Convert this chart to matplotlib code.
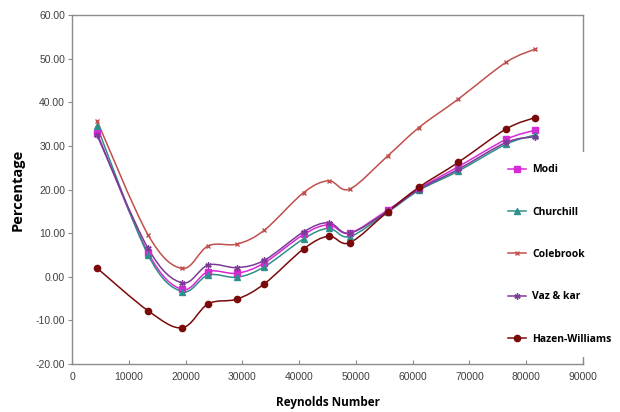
import numpy as np
import matplotlib
matplotlib.use('Agg')
import matplotlib.pyplot as plt
from matplotlib.path import Path
from matplotlib.patches import PathPatch
from matplotlib.lines import Line2D

# Данные
reynolds = [4400, 13400, 19400, 24000, 29100, 33900, 40800, 45200, 48900,
            55600, 61100, 68000, 76500, 81600]

modi = [33.0, 5.5, -2.9, 1.2, 0.8, 3.2, 9.7, 11.9, 10.0, 15.3, 20.2, 25.2, 31.5, 33.6]
churchill = [34.5, 5.0, -3.4, 0.4, -0.1, 2.3, 8.7, 11.1, 9.2, 14.8, 19.8, 24.2, 30.4, 32.5]
colebrook = [35.8, 9.6, 1.9, 7.1, 7.5, 10.7, 19.3, 22.0, 20.1, 27.7, 34.2, 40.7, 49.2, 52.2]
vaz_kar = [32.5, 6.5, -1.4, 2.7, 2.1, 3.8, 10.3, 12.4, 10.0, 15.0, 20.0, 24.6, 30.8, 32.1]
hazen = [2.0, -7.8, -11.7, -6.2, -5.1, -1.6, 6.4, 9.3, 7.8, 14.9, 20.5, 26.2, 33.9, 36.5]

series_names = ['Modi', 'Churchill', 'Colebrook', 'Vaz & kar', 'Hazen-Williams']
series_vals = [modi, churchill, colebrook, vaz_kar, hazen]
colors = ['#d62ad6', '#2f8f8a', '#c0504d', '#7a3a95', '#7a0a0a']
markers = ['s', '^', 'x', (6, 2, 0), 'o']
msizes = [4.5, 4, 3.5, 4.5, 4.5]

y_ticks = [-20, -10, 0, 10, 20, 30, 40, 50, 60]
x_ticks = [0, 10000, 20000, 30000, 40000, 50000, 60000, 70000, 80000, 90000]


def smooth_path(xs, ys):
    # сглаженная линия как в Excel: кривые Безье через точки
    p = np.column_stack([xs, ys]).astype(float)
    n = len(p)
    verts = [p[0]]
    codes = [Path.MOVETO]
    for i in range(n - 1):
        p0 = p[i - 1] if i > 0 else p[i]
        p3 = p[i + 2] if i + 2 < n else p[i + 1]
        c1 = p[i] + (p[i + 1] - p0) / 6.0
        c2 = p[i + 1] - (p3 - p[i]) / 6.0
        verts += [c1, c2, p[i + 1]]
        codes += [Path.CURVE4] * 3
    return Path(verts, codes)


fig = plt.figure(figsize=(6.2, 4.12), dpi=100)
ax = fig.add_axes([72 / 620, 1 - 364 / 412, 511 / 620, 349 / 412])

handles = []
for name, vals, c, m, ms in zip(series_names, series_vals, colors, markers, msizes):
    ax.add_patch(PathPatch(smooth_path(reynolds, vals), facecolor='none',
                           edgecolor=c, lw=1.1, zorder=3))
    ax.plot(reynolds, vals, linestyle='none', marker=m, ms=ms, color=c,
            mec=c, mew=1.0, zorder=4)
    handles.append(Line2D([], [], color=c, lw=1.1, marker=m, ms=ms, mec=c, label=name))

ax.set_xlim(0, 90000)
ax.set_ylim(-20, 60)
ax.set_xticks(x_ticks)
ax.set_yticks(y_ticks)
ax.set_yticklabels([f'{v:.2f}' for v in y_ticks])
ax.set_xticklabels([str(v) for v in x_ticks])

for s in ax.spines.values():
    s.set_color('#8c8c8c')
    s.set_linewidth(1.0)
ax.tick_params(axis='y', direction='out', length=3, color='#8c8c8c',
               labelsize=7.5, labelcolor='#404040', pad=2)
ax.tick_params(axis='x', direction='in', length=3, color='#8c8c8c',
               labelsize=7.5, labelcolor='#404040', pad=6)
for lab in ax.get_xticklabels() + ax.get_yticklabels():
    lab.set_family('Liberation Sans')

ax.set_ylabel('Percentage', fontsize=10.5, fontweight='bold', family='Open Sans', labelpad=8)
ax.set_xlabel('Reynolds Number', fontsize=8.5, fontweight='bold', family='Open Sans', labelpad=10)

leg = ax.legend(handles=handles, loc='upper left',
                bbox_to_anchor=(495 / 620, 1 - 152 / 412), bbox_transform=fig.transFigure,
                frameon=True, facecolor='white', edgecolor='none', framealpha=1.0,
                fancybox=False, labelspacing=3.0, handlelength=1.8, handletextpad=0.6,
                borderpad=1.2, borderaxespad=0,
                prop={'family': 'Open Sans', 'weight': 'bold', 'size': 7.5})

fig.savefig('out.png', dpi=100)
